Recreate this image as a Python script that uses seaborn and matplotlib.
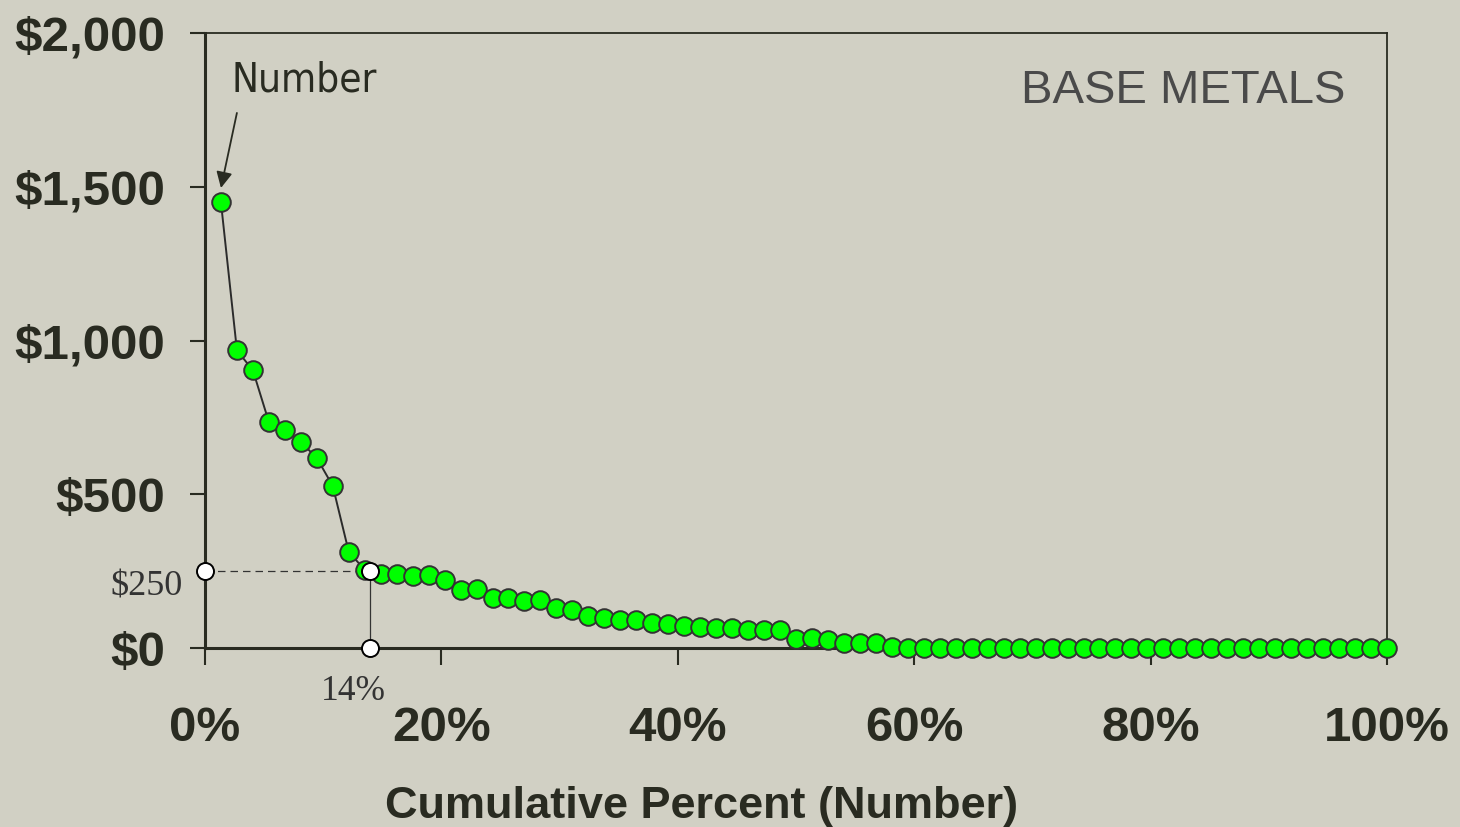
import matplotlib
matplotlib.use("Agg")
import matplotlib.pyplot as plt
import matplotlib.font_manager as fm
import numpy as np
import pandas as pd
import seaborn as sns
from matplotlib.ticker import FuncFormatter

# deposit values (millions $), sorted from largest to smallest
values = [1449, 968, 903, 735, 709, 670, 618, 527, 313, 254,
          240, 242, 234, 236, 221, 189, 191, 163, 163, 154,
          156, 130, 124, 104, 97, 91, 91, 83, 78, 72,
          69, 64, 64, 58, 58, 60, 31, 33, 26, 15,
          15, 15, 2, 0, 0, 0, 0, 0, 0, 0,
          0, 0, 0, 0, 0, 0, 0, 0, 0, 0,
          0, 0, 0, 0, 0, 0, 0, 0, 0, 0,
          0, 0, 0, 0]
x_ticks = [0, 20, 40, 60, 80, 100]
y_ticks = [0, 500, 1000, 1500, 2000]
ref_value = 250
ref_pct = 14
title_text = "BASE METALS"
series_label = "Number"
x_title = "Cumulative Percent (Number)"

BG = "#D1D0C4"
INK = "#292B21"


def narrow_font():
    # look for a condensed sans face, else fall back to the normal one
    names = {f.name for f in fm.fontManager.ttflist}
    for cand in ["Liberation Sans Narrow", "Arial Narrow", "DejaVu Sans Condensed"]:
        if cand in names:
            return {"family": [cand], "stretch": "normal", "size": 32}
    for f in fm.fontManager.ttflist:
        if f.name == "DejaVu Sans" and f.stretch == "condensed" and f.style == "normal":
            return {"family": ["DejaVu Sans"], "stretch": "condensed", "size": 29}
    return {"family": ["Liberation Sans"], "stretch": "normal", "size": 28.5}


def main():
    n = len(values)
    df = pd.DataFrame({
        "cum_pct": np.arange(1, n + 1) / n * 100,
        "value": values,
    })

    sns.set_theme(style="ticks")
    plt.rcParams["font.family"] = ["Liberation Sans", "DejaVu Sans"]
    plt.rcParams["figure.facecolor"] = BG
    plt.rcParams["axes.facecolor"] = BG

    fig = plt.figure(figsize=(14.6, 8.27), dpi=100)
    ax = fig.add_axes([0.1404, 0.2164, 0.9500 - 0.1404, 0.9601 - 0.2164])

    # reference guide lines at $250 / 14%
    ax.plot([0, ref_pct], [ref_value, ref_value], color="#333333", lw=0.9,
            ls=(0, (6, 4)), zorder=2, clip_on=False)
    ax.plot([ref_pct, ref_pct], [0, ref_value], color="#333333", lw=0.9,
            zorder=2, clip_on=False)

    sns.lineplot(data=df, x="cum_pct", y="value", ax=ax, color="#2b2b2b",
                 lw=1.4, zorder=3, clip_on=False)
    sns.scatterplot(data=df, x="cum_pct", y="value", ax=ax, s=180,
                    color="#00FF00", edgecolor="#333333", linewidth=1.4,
                    zorder=4, clip_on=False)

    ref_pts = pd.DataFrame({"x": [0, ref_pct, ref_pct],
                            "y": [ref_value, ref_value, 0]})
    sns.scatterplot(data=ref_pts, x="x", y="y", ax=ax, s=150, color="white",
                    edgecolor="black", linewidth=1.4, zorder=6, clip_on=False)

    ax.set_xlim(0, 100)
    ax.set_ylim(0, 2000)
    ax.set_xticks(x_ticks)
    ax.set_yticks(y_ticks)
    ax.xaxis.set_major_formatter(FuncFormatter(lambda v, p: f"{v:.0f}%"))
    ax.yaxis.set_major_formatter(FuncFormatter(lambda v, p: f"${v:,.0f}"))

    for side in ["left", "right", "top", "bottom"]:
        ax.spines[side].set_visible(True)
        ax.spines[side].set_color(INK)
    ax.spines["left"].set_linewidth(2.2)
    ax.spines["bottom"].set_linewidth(2.2)
    ax.spines["top"].set_linewidth(1.3)
    ax.spines["right"].set_linewidth(1.3)

    ax.tick_params(axis="y", direction="out", length=11, width=1.5,
                   color=INK, pad=18, labelsize=35.5, labelcolor=INK)
    ax.tick_params(axis="x", direction="out", length=12, width=1.5,
                   color=INK, pad=30, labelsize=35.5, labelcolor=INK)
    for lab in ax.get_xticklabels() + ax.get_yticklabels():
        lab.set_fontweight("bold")

    ax.set_ylabel("")
    ax.set_xlabel(x_title, fontsize=32.5, fontweight="bold", color=INK)
    ax.xaxis.set_label_coords(0.42, -0.225)

    serif = ["Liberation Serif", "DejaVu Serif"]
    fig.text(353 / 1460, 1 - 692 / 827, f"{ref_pct}%", ha="center",
             va="center", fontsize=25.5, color="#333333", family=serif)
    fig.text(147 / 1460, 1 - 587 / 827, f"${ref_value}", ha="center",
             va="center", fontsize=26, color="#333333", family=serif)

    ax.text(0.9645, 0.905, title_text, transform=ax.transAxes, ha="right",
            va="center", fontsize=34, color="#4a4a4a")

    nf = narrow_font()
    ax.text(2.25, 1845, series_label, ha="left", va="center",
            fontsize=nf["size"], fontstretch=nf["stretch"],
            family=nf["family"], color=INK)
    ax.annotate("", xy=(1.35, 1496), xytext=(2.7, 1740),
                arrowprops=dict(arrowstyle="-|>", color=INK, lw=1.3,
                                mutation_scale=24, shrinkA=0, shrinkB=0))

    fig.savefig("out.png", dpi=100, facecolor=BG)
    plt.close(fig)


if __name__ == "__main__":
    main()
